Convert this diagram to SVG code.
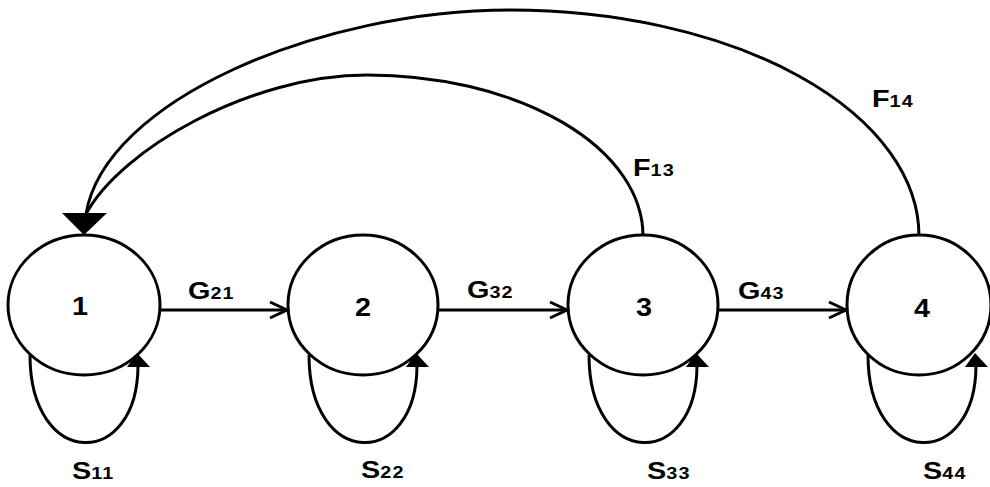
<svg xmlns="http://www.w3.org/2000/svg" width="990" height="487" viewBox="0 0 990 487">
  <style>
    .node { fill: #ffffff; stroke: #000000; stroke-width: 3; }
    .edge { fill: none; stroke: #000000; stroke-width: 3; }
    .head { fill: #000000; stroke: none; }
    .open { fill: none; stroke: #000000; stroke-width: 3; stroke-linejoin: miter; }
    text { font-family: "Liberation Sans", Arial, sans-serif; font-weight: bold; fill: #000000; }
    .big { font-size: 24px; }
    .sub { font-size: 16.5px; letter-spacing: 1px; }
    .num { font-size: 25px; text-anchor: middle; }
  </style>
  <rect x="0" y="0" width="990" height="487" fill="#ffffff"/>

  <!-- states -->
  <g id="state1">
    <ellipse class="node" cx="84" cy="305" rx="76" ry="70"/>
    <text class="num" transform="translate(80 315) scale(1.15 1)">1</text>
  </g>
  <g id="state2">
    <ellipse class="node" cx="363" cy="305" rx="75" ry="70"/>
    <text class="num" transform="translate(363 316) scale(1.15 1)">2</text>
  </g>
  <g id="state3">
    <ellipse class="node" cx="643" cy="305" rx="75" ry="70"/>
    <text class="num" transform="translate(644 316) scale(1.15 1)">3</text>
  </g>
  <g id="state4">
    <ellipse class="node" cx="919" cy="305" rx="72" ry="70"/>
    <text class="num" transform="translate(922 317) scale(1.15 1)">4</text>
  </g>

  <!-- connectors -->
  <g id="connectors">
    <!-- feedback arcs back to state 1 -->
    <path class="edge" d="M919,236 A409,226 0 0 0 510,10 C320,10 105,100 86,214"/>
    <path class="edge" d="M643,236 A276,161 0 0 0 367,75 C250,75 120,150 86,214"/>
    <polygon class="head" points="62,213 107,213 84,235"/>

    <!-- forward transitions -->
    <line class="edge" x1="160" y1="310" x2="287" y2="310"/>
    <polyline class="open" points="270,302 287,310 270,318"/>
    <line class="edge" x1="439" y1="310" x2="567" y2="310"/>
    <polyline class="open" points="550,302 567,310 550,318"/>
    <line class="edge" x1="718" y1="310" x2="846" y2="310"/>
    <polyline class="open" points="829,302 846,310 829,318"/>

    <!-- self loops -->
    <path class="edge" d="M30,355 C30,470 138,470 138,365"/>
    <polygon class="head" points="137,353 127,367 150,367"/>
    <path class="edge" d="M309,355 C309,470 417,470 417,365"/>
    <polygon class="head" points="416,353 406,367 429,367"/>
    <path class="edge" d="M589,355 C589,470 697,470 697,365"/>
    <polygon class="head" points="696,353 686,367 709,367"/>
    <path class="edge" d="M868,355 C868,470 976,470 976,365"/>
    <polygon class="head" points="975,353 965,367 988,367"/>
  </g>

  <!-- transition labels -->
  <g id="labels">
    <text transform="translate(188 299) scale(1.2 1)"><tspan class="big">G</tspan><tspan class="sub">21</tspan></text>
    <text transform="translate(467 298) scale(1.2 1)"><tspan class="big">G</tspan><tspan class="sub">32</tspan></text>
    <text transform="translate(738 299) scale(1.2 1)"><tspan class="big">G</tspan><tspan class="sub">43</tspan></text>
    <text transform="translate(633 176) scale(1.2 1)"><tspan class="big">F</tspan><tspan class="sub">13</tspan></text>
    <text transform="translate(872 107) scale(1.2 1)"><tspan class="big">F</tspan><tspan class="sub">14</tspan></text>
    <text transform="translate(72 479) scale(1.2 1)"><tspan class="big">S</tspan><tspan class="sub">11</tspan></text>
    <text transform="translate(361 478) scale(1.2 1)"><tspan class="big">S</tspan><tspan class="sub">22</tspan></text>
    <text transform="translate(647 479) scale(1.2 1)"><tspan class="big">S</tspan><tspan class="sub">33</tspan></text>
    <text transform="translate(923 479) scale(1.2 1)"><tspan class="big">S</tspan><tspan class="sub">44</tspan></text>
  </g>
</svg>
